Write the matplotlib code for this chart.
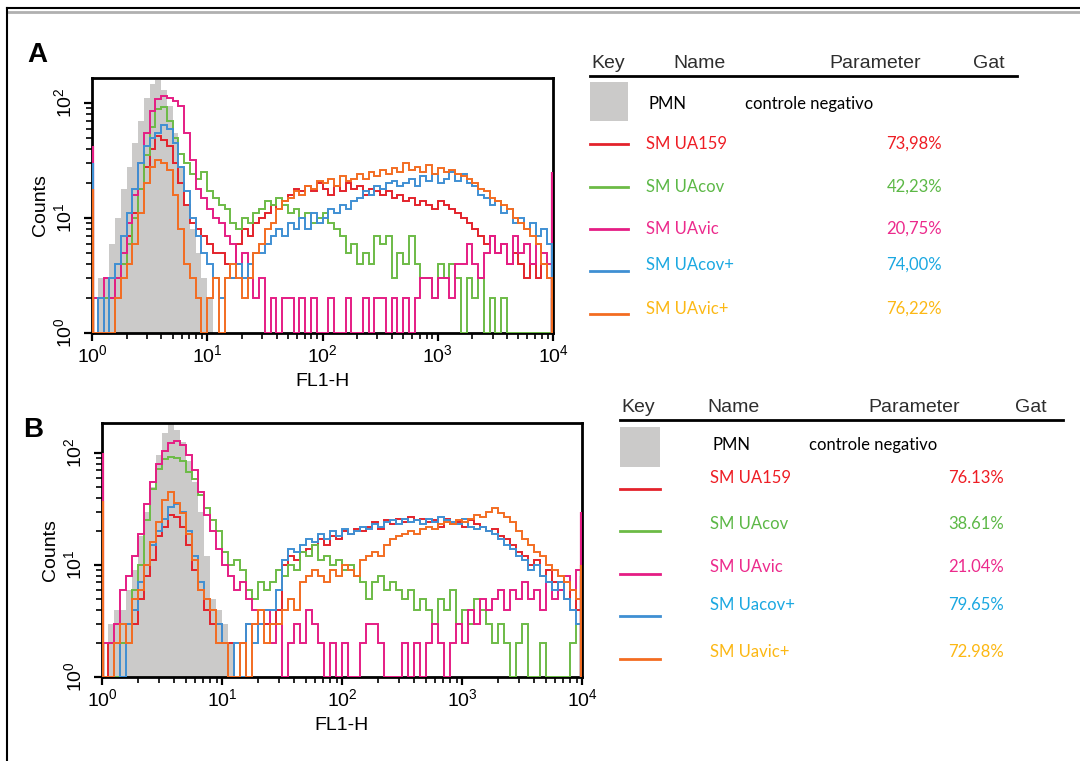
import numpy as np
import matplotlib.pyplot as plt
from matplotlib.lines import Line2D
from matplotlib.patches import Rectangle
from matplotlib.ticker import FixedLocator, FuncFormatter, NullFormatter

plt.rcParams["font.family"] = ["Liberation Sans", "DejaVu Sans"]
plt.rcParams["mathtext.fontset"] = "custom"
plt.rcParams["mathtext.rm"] = "Liberation Sans"
plt.rcParams["mathtext.it"] = "Liberation Sans:italic"
plt.rcParams["mathtext.bf"] = "Liberation Sans:bold"

# FL1-H channels: 20 bins per decade, 10^0 .. 10^4
edges = 10 ** (np.arange(81) / 20)

# ---- panel A counts per bin ----
a_pmn = [1, 3, 3, 6, 10, 18, 28, 45, 70, 110, 145, 160, 130, 95, 55, 28, 13, 8, 5, 3,
         2, 1, 0, 0, 0, 0, 0, 0, 0, 0, 0, 0, 0, 0, 0, 0, 0, 0, 0, 0,
         0, 0, 0, 0, 0, 0, 0, 0, 0, 0, 0, 0, 0, 0, 0, 0, 0, 0, 0, 0,
         0, 0, 0, 0, 0, 0, 0, 0, 0, 0, 0, 0, 0, 0, 0, 0, 0, 0, 0, 0]
a_ua159 = [2, 1, 2, 2, 3, 4, 7, 11, 18, 28, 40, 52, 48, 42, 30, 20, 13, 9, 8, 7,
           6, 5, 5, 4, 3, 6, 8, 7, 9, 10, 11, 13, 12, 14, 16, 18, 17, 19, 17, 20,
           18, 16, 19, 17, 20, 18, 19, 16, 18, 17, 16, 17, 15, 16, 14, 15, 13, 14, 13, 12,
           14, 13, 12, 11, 10, 9, 8, 7, 6, 7, 5, 6, 4, 5, 4, 3, 4, 3, 4, 3]
a_uacov = [2, 1, 2, 1, 3, 4, 6, 10, 18, 35, 62, 88, 92, 70, 50, 36, 30, 24, 22, 25,
           17, 15, 13, 12, 9, 8, 10, 9, 11, 12, 14, 13, 15, 13, 11, 12, 10, 11, 9, 10,
           11, 9, 8, 7, 5, 6, 4, 5, 4, 7, 6, 7, 3, 5, 4, 7, 4, 3, 3, 2,
           4, 3, 4, 3, 1, 3, 2, 3, 1, 2, 1, 2, 1, 1, 1, 1, 1, 1, 1, 1]
a_uavic = [2, 1, 3, 2, 3, 5, 9, 16, 30, 55, 85, 108, 115, 110, 104, 95, 55, 32, 18, 15,
           12, 10, 9, 7, 6, 4, 5, 3, 2, 3, 1, 2, 1, 2, 2, 1, 2, 1, 2, 1,
           1, 2, 1, 1, 2, 1, 1, 2, 1, 2, 2, 1, 2, 1, 2, 1, 2, 3, 3, 2,
           3, 3, 2, 4, 4, 6, 4, 3, 5, 7, 5, 6, 4, 7, 5, 6, 4, 6, 5, 4]
a_uacov_p = [1, 2, 1, 3, 4, 7, 11, 18, 30, 42, 50, 55, 64, 60, 45, 28, 17, 10, 7, 5,
             4, 3, 2, 3, 3, 4, 3, 4, 5, 5, 6, 7, 8, 7, 9, 8, 10, 8, 11, 9,
             10, 12, 11, 13, 12, 14, 15, 17, 16, 19, 18, 20, 21, 19, 20, 22, 19, 23, 21, 24,
             20, 22, 25, 21, 24, 20, 19, 16, 15, 13, 14, 11, 12, 9, 10, 8, 9, 7, 8, 6]
a_uavic_p = [1, 1, 1, 1, 2, 3, 4, 6, 11, 20, 28, 32, 30, 26, 16, 8, 4, 3, 2, 1,
             2, 3, 1, 3, 4, 3, 2, 3, 5, 6, 8, 9, 12, 14, 15, 17, 16, 19, 18, 21,
             20, 22, 19, 23, 21, 22, 24, 22, 25, 23, 26, 24, 27, 25, 30, 26, 28, 25, 29, 24,
             27, 25, 26, 24, 23, 22, 20, 18, 17, 15, 14, 13, 12, 10, 9, 8, 7, 6, 4, 3]
# first / last channel (off-scale events)
a_low = [2, 2, 42, 30, 18]
a_high = [3, 2, 25, 6, 3]

# ---- panel B counts per bin ----
b_pmn = [1, 3, 4, 4, 6, 9, 18, 30, 50, 95, 150, 180, 160, 125, 85, 55, 30, 12, 5, 4,
         3, 2, 0, 0, 0, 0, 0, 0, 0, 0, 0, 0, 0, 0, 0, 0, 0, 0, 0, 0,
         0, 0, 0, 0, 0, 0, 0, 0, 0, 0, 0, 0, 0, 0, 0, 0, 0, 0, 0, 0,
         0, 0, 0, 0, 0, 0, 0, 0, 0, 0, 0, 0, 0, 0, 0, 0, 0, 0, 0, 0]
b_ua159 = [1, 2, 2, 2, 3, 3, 5, 8, 11, 18, 22, 28, 27, 22, 15, 9, 6, 4, 3, 3,
           2, 2, 1, 2, 3, 3, 4, 3, 3, 4, 10, 12, 11, 13, 14, 15, 17, 15, 18, 17,
           20, 19, 21, 20, 22, 24, 21, 25, 23, 26, 24, 27, 25, 26, 24, 25, 22, 26, 23, 24,
           22, 25, 23, 22, 20, 21, 18, 17, 15, 13, 12, 10, 11, 8, 9, 7, 6, 5, 6, 4]
b_uacov = [1, 1, 1, 2, 3, 6, 10, 25, 48, 72, 88, 92, 90, 85, 68, 58, 42, 32, 25, 20,
           13, 10, 11, 9, 6, 5, 7, 6, 7, 9, 8, 10, 9, 13, 12, 15, 11, 12, 10, 11,
           9, 10, 8, 7, 5, 7, 8, 6, 7, 6, 5, 6, 4, 5, 4, 3, 5, 4, 6, 3,
           4, 3, 5, 4, 3, 2, 3, 2, 1, 2, 3, 1, 1, 2, 1, 1, 1, 1, 2, 3]
b_uavic = [2, 2, 3, 6, 8, 12, 19, 35, 55, 80, 105, 122, 128, 118, 95, 70, 45, 28, 20, 14,
           10, 8, 6, 7, 5, 4, 3, 4, 2, 3, 1, 2, 3, 2, 4, 3, 2, 1, 2, 1,
           2, 1, 1, 2, 3, 3, 2, 1, 1, 1, 2, 1, 2, 1, 2, 3, 2, 1, 2, 3,
           2, 4, 3, 5, 4, 5, 6, 4, 6, 5, 7, 5, 6, 4, 7, 5, 6, 8, 6, 9]
b_uacov_p = [1, 1, 2, 1, 3, 4, 7, 10, 15, 20, 26, 33, 35, 30, 20, 12, 7, 5, 4, 3,
             2, 1, 2, 1, 3, 2, 3, 4, 4, 6, 11, 14, 13, 15, 17, 16, 19, 17, 20, 18,
             21, 19, 20, 22, 21, 23, 22, 24, 25, 23, 26, 24, 25, 23, 26, 24, 27, 25, 24, 23,
             26, 22, 21, 22, 20, 19, 17, 15, 14, 12, 11, 9, 10, 8, 7, 6, 7, 5, 4, 3]
b_uavic_p = [1, 1, 2, 3, 2, 5, 6, 10, 16, 24, 38, 45, 36, 29, 19, 11, 6, 5, 4, 2,
             2, 1, 1, 2, 1, 3, 4, 2, 3, 3, 4, 5, 4, 7, 8, 9, 8, 7, 9, 8,
             10, 9, 8, 11, 12, 13, 12, 15, 17, 18, 19, 20, 19, 21, 22, 21, 23, 24, 23, 25,
             24, 26, 28, 27, 30, 32, 29, 27, 24, 20, 17, 15, 13, 12, 10, 9, 8, 7, 6, 5]
b_low = [2, 2, 100, 2, 37]
b_high = [8, 3, 30, 9, 10]

# ---- legend tables ----
names_a = ["SM UA159", "SM UAcov", "SM UAvic", "SM UAcov+", "SM UAvic+"]
names_b = ["SM UA159", "SM UAcov", "SM UAvic", "SM Uacov+", "SM Uavic+"]
pct_a = ["73,98%", "42,23%", "20,75%", "74,00%", "76,22%"]
pct_b = ["76.13%", "38.61%", "21.04%", "79.65%", "72.98%"]
header = ["Key", "Name", "Parameter", "Gat"]

line_colors = ["#e3222b", "#6cbb46", "#e51d84", "#3f8fd3", "#f36c21"]
text_colors = ["#ee1d24", "#5cb846", "#ec2a8c", "#1ba8e1", "#fcb815"]
pmn_color = "#cbcac9"
draw_order = [1, 0, 2, 3, 4]

W, H = 1080, 761
fig = plt.figure(figsize=(W / 100, H / 100), dpi=100)


def px(x, y):
    return x / W, 1 - y / H


def draw_panel(rect, pmn, series, low, high, ytop):
    ax = fig.add_axes(rect)
    ax.set_xscale("log")
    ax.set_yscale("log")
    ax.stairs(np.maximum(pmn, 1), edges, baseline=1, fill=True,
              color=pmn_color, lw=0, zorder=1)
    for k in draw_order:
        ax.stairs(np.maximum(series[k], 1), edges, baseline=None,
                  color=line_colors[k], lw=1.4, zorder=2 + k)
        ax.vlines(10 ** 0.01, 1, low[k], color=line_colors[k], lw=1.6, zorder=2 + k)
        ax.vlines(10 ** 3.99, 1, high[k], color=line_colors[k], lw=1.6, zorder=2 + k)
    ax.set_xlim(1, 1e4)
    ax.set_ylim(1, ytop)

    fmt = FuncFormatter(lambda v, p: r"$\mathregular{10^{%d}}$" % round(np.log10(v)))
    ax.xaxis.set_major_locator(FixedLocator([1, 10, 100, 1000, 10000]))
    ax.xaxis.set_minor_locator(FixedLocator(
        [m * 10 ** e for e in range(4) for m in range(2, 10)]))
    ax.yaxis.set_major_locator(FixedLocator([1, 10, 100]))
    ax.yaxis.set_minor_locator(FixedLocator(
        [m * 10 ** e for e in range(3) for m in range(2, 10) if m * 10 ** e < ytop]))
    ax.xaxis.set_major_formatter(fmt)
    ax.yaxis.set_major_formatter(fmt)
    ax.xaxis.set_minor_formatter(NullFormatter())
    ax.yaxis.set_minor_formatter(NullFormatter())
    ax.tick_params(which="major", direction="out", length=6, width=1.6,
                   labelsize=14, pad=2)
    ax.tick_params(axis="y", which="major", pad=6)
    ax.tick_params(which="minor", direction="out", length=4, width=1.2)
    ax.tick_params(axis="y", labelrotation=90)
    for lab in ax.get_yticklabels():
        lab.set_va("center")

    for s in ax.spines.values():
        s.set_linewidth(2)
    ax.set_xlabel("FL1-H", fontsize=14, labelpad=5)
    ax.set_ylabel("Counts", fontsize=14, labelpad=3)
    return ax


def draw_key(x0, y_head, heads_x, line_end, sq, pmn_y, pmn_x, ctrl_x,
             line_y, text_y, name_x, pct_right, names, pcts):
    for hx, h in zip(heads_x, header):
        fig.text(*px(hx, y_head), h, fontsize=14, color="#2e2e2e", va="center")
    fig.add_artist(Line2D([px(x0, 0)[0], px(line_end, 0)[0]],
                          [px(0, y_head + 13)[1]] * 2, color="black", lw=2))
    sx, sy, sw, sh = sq
    fig.add_artist(Rectangle(px(sx, sy + sh), sw / W, sh / H,
                             transform=fig.transFigure, color=pmn_color, lw=0))
    fig.text(*px(pmn_x, pmn_y), "PMN", fontsize=12, family="Lato", va="center")
    fig.text(*px(ctrl_x, pmn_y), "controle negativo", fontsize=12, family="Lato",
             va="center")
    for k in range(5):
        fig.add_artist(Line2D([px(x0, 0)[0], px(x0 + sw, 0)[0]],
                              [px(0, line_y[k])[1]] * 2,
                              color=line_colors[k], lw=2))
        fig.text(*px(name_x, text_y[k]), names[k], fontsize=12, family="Lato",
                 color=text_colors[k], va="center")
        fig.text(*px(pct_right, text_y[k]), pcts[k], fontsize=12, family="Lato",
                 color=text_colors[k], va="center", ha="right")


series_a = [a_ua159, a_uacov, a_uavic, a_uacov_p, a_uavic_p]
series_b = [b_ua159, b_uacov, b_uavic, b_uacov_p, b_uavic_p]

draw_panel([92 / W, 1 - 333 / H, 461 / W, 255 / H], a_pmn, series_a, a_low, a_high,
           10 ** (255 / 115))
draw_panel([102 / W, 1 - 677 / H, 480 / W, 254 / H], b_pmn, series_b, b_low, b_high,
           10 ** (254 / 112))

fig.text(*px(27, 55), "A", fontsize=20, fontweight="bold", va="center")
fig.text(*px(23, 430), "B", fontsize=20, fontweight="bold", va="center")

draw_key(590, 63, [591, 673, 829, 973], 1017, (590, 82, 38, 39), 104, 648, 745,
         [144, 187, 229, 271, 314], [144, 187, 229, 265, 309], 646, 942,
         names_a, pct_a)
draw_key(620, 407, [621, 707, 868, 1015], 1063, (620, 427, 40, 40), 445, 713, 809,
         [489, 531, 574, 616, 659], [478, 524, 567, 605, 652], 710, 1004,
         names_b, pct_b)

# page frame
fig.add_artist(Line2D([7 / W, 1], [1 - 8 / H] * 2, color="black", lw=1.5))
fig.add_artist(Line2D([7 / W, 1], [1 - 12 / H] * 2, color="#b0b0b0", lw=2))
fig.add_artist(Line2D([7 / W] * 2, [0, 1 - 8 / H], color="black", lw=1.5))

fig.savefig("out.png", dpi=100, facecolor="white")
